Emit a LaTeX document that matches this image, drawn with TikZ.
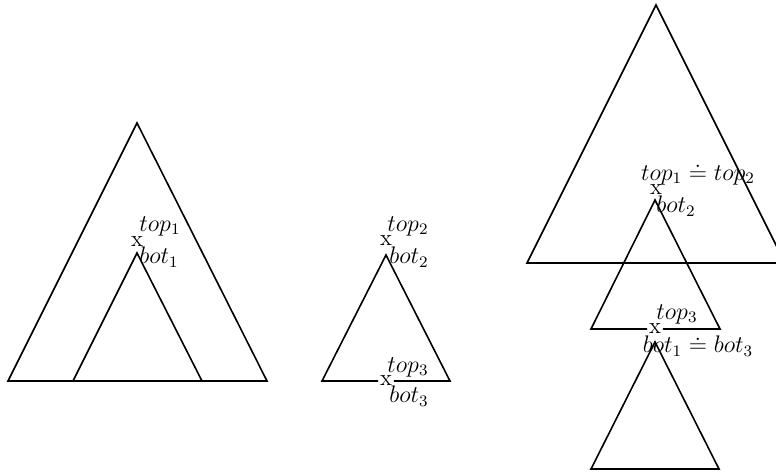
\documentclass[tikz,border=0pt]{standalone}
\begin{document}
\begin{tikzpicture}[
    x=0.5pt, y=-0.5pt, line width=0.8pt,
    font=\fontsize{12}{14}\selectfont,
    xmark/.style={inner sep=0.6pt, font=\fontsize{11.5}{14}\selectfont},
    lbl/.style={inner sep=0pt},
]
\useasboundingbox (0,0) rectangle (776,473);

% Left: tree with a subtree cut off at x
\coordinate (L1) at (137,123);
\coordinate (L2) at (8,381);
\coordinate (L3) at (267,381);
\coordinate (S1) at (137,253);
\coordinate (S2) at (73,381);
\coordinate (S3) at (202,381);
\node[xmark] (xa) at (137,242) {x};
\node[lbl] (topa) at (160,226) {$top_1$};
\node[lbl] (bota) at (159,257) {$bot_1$};
\draw (L2) -- (L1) -- (L3) -- cycle;
\draw (S2) -- (S1) -- (S3);

% Middle: the piece to insert
\coordinate (M1) at (386,255);
\coordinate (M2) at (322,381);
\coordinate (M3) at (450,381);
\node[xmark] (xb) at (386,241) {x};
\node[lbl] (topb) at (408,226) {$top_2$};
\node[lbl] (botb) at (409,257) {$bot_2$};
\node[xmark] (xc) at (386,381) {x};
\node[lbl] (topc) at (408,367) {$top_3$};
\node[lbl] (botc) at (409,396) {$bot_3$};
\draw (xc) -- (M2) -- (M1) -- (M3) -- (xc);

% Right: result after adjoining
\coordinate (R1) at (656,5);
\coordinate (R2) at (527,263);
\coordinate (R3) at (785,263);
\coordinate (P1) at (655,200);
\coordinate (P2) at (591,329);
\coordinate (P3) at (720,329);
\coordinate (Q1) at (655,342);
\coordinate (Q2) at (591,469);
\coordinate (Q3) at (719,469);
\node[xmark] (xd) at (656,190) {x};
\node[lbl] (topd) at (698,174) {$top_1 \doteq top_2$};
\node[lbl] (botd) at (676,206) {$bot_2$};
\node[xmark] (xe) at (655,329) {x};
\node[lbl] (tope) at (677,314) {$top_3$};
\node[lbl] (bote) at (698,346) {$bot_1 \doteq bot_3$};
\draw (R2) -- (R1) -- (R3) -- cycle;
\draw (xe) -- (P2) -- (P1) -- (P3) -- (xe);
\draw (Q2) -- (Q1) -- (Q3) -- cycle;
\end{tikzpicture}
\end{document}
